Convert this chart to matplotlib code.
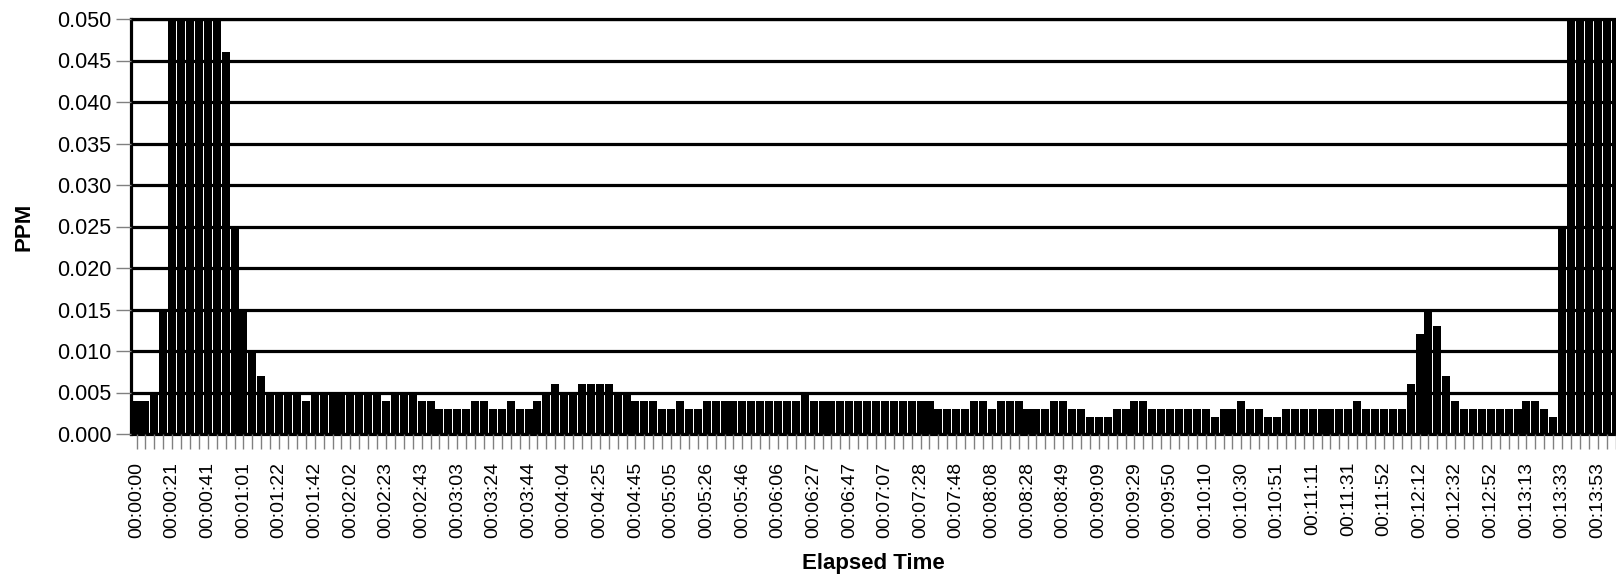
import matplotlib
matplotlib.use("Agg")
import matplotlib.pyplot as plt
import numpy as np

plt.rcParams["font.family"] = ["Liberation Sans", "DejaVu Sans"]

# PPM readings, one per sample (about 5 s apart); the plot is capped at 0.05
ppm = (
    [0.004, 0.004, 0.005, 0.015]
    + [0.05] * 6
    + [0.046, 0.025, 0.015, 0.010, 0.007]
    + [0.005] * 4 + [0.004] + [0.005] * 8 + [0.004] + [0.005] * 3
    + [0.004] * 2 + [0.003] * 4 + [0.004] * 2 + [0.003] * 2 + [0.004]
    + [0.003] * 2 + [0.004, 0.005, 0.006] + [0.005] * 2 + [0.006] * 4
    + [0.005] * 2 + [0.004] * 3 + [0.003] * 2 + [0.004] + [0.003] * 2
    + [0.004] * 11 + [0.005] + [0.004] * 14 + [0.003] * 4 + [0.004] * 2
    + [0.003] + [0.004] * 3 + [0.003] * 3 + [0.004] * 2 + [0.003] * 2
    + [0.002] * 3 + [0.003] * 2 + [0.004] * 2 + [0.003] * 7 + [0.002]
    + [0.003] * 2 + [0.004] + [0.003] * 2 + [0.002] * 2 + [0.003] * 8
    + [0.004] + [0.003] * 5
    + [0.006, 0.012, 0.015, 0.013, 0.007, 0.004]
    + [0.003] * 7 + [0.004] * 2 + [0.003, 0.002, 0.025]
    + [0.05] * 6
)

# elapsed-time labels, shown on every 4th sample
time_labels = [
    "00:00:00", "00:00:21", "00:00:41", "00:01:01", "00:01:22", "00:01:42",
    "00:02:02", "00:02:23", "00:02:43", "00:03:03", "00:03:24", "00:03:44",
    "00:04:04", "00:04:25", "00:04:45", "00:05:05", "00:05:26", "00:05:46",
    "00:06:06", "00:06:27", "00:06:47", "00:07:07", "00:07:28", "00:07:48",
    "00:08:08", "00:08:28", "00:08:49", "00:09:09", "00:09:29", "00:09:50",
    "00:10:10", "00:10:30", "00:10:51", "00:11:11", "00:11:31", "00:11:52",
    "00:12:12", "00:12:32", "00:12:52", "00:13:13", "00:13:33", "00:13:53",
]
y_ticks = [0.000, 0.005, 0.010, 0.015, 0.020, 0.025, 0.030, 0.035, 0.040, 0.045, 0.050]

fig = plt.figure(figsize=(16.16, 5.78), dpi=100)
ax = fig.add_axes([131 / 1616, 1 - 434 / 578, (1616 - 131) / 1616, (434 - 19) / 578])

x = np.arange(len(ppm))
ax.bar(x, ppm, width=0.9, color="black", linewidth=0)

ax.set_ylim(0, 0.05)
ax.set_xlim(-0.62, 166.05)

ax.set_yticks(y_ticks)
ax.set_yticklabels([f"{v:.3f}" for v in y_ticks], fontsize=15.5)
ax.set_xticks(x, minor=True)
ax.set_xticks(x[::4][: len(time_labels)])
ax.set_xticklabels(time_labels, rotation=90, fontsize=14)

ax.grid(axis="y", color="black", linewidth=2.3)
ax.set_axisbelow(False)

for side in ("left", "top", "bottom"):
    ax.spines[side].set_color("black")
    ax.spines[side].set_linewidth(2.3)
ax.spines["right"].set_visible(False)

ax.tick_params(axis="y", length=11, width=1.0, color="#808080", pad=3)
ax.tick_params(axis="x", which="both", length=11, width=1.0, color="#808080", pad=9)
ax.tick_params(axis="x", which="minor", labelbottom=False)

ax.set_xlabel("Elapsed Time", fontsize=16, fontweight="bold", labelpad=11)
ax.set_ylabel("PPM", fontsize=16, fontweight="bold", labelpad=16)

fig.savefig("out.png", dpi=100)
